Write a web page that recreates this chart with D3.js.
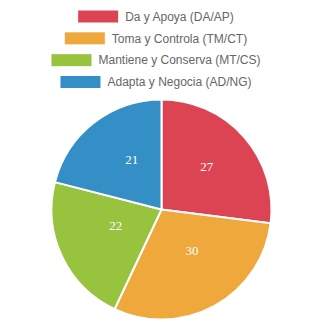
<!DOCTYPE html>
<html>
<head>
<meta charset="utf-8">
<script src="https://cdn.jsdelivr.net/npm/d3@7"></script>
<style>
  body { margin: 0; background: #fff; }
  svg { display: block; }
</style>
</head>
<body>
<div id="chart"></div>
<script>
// Datos del gráfico
const categories = ["Da y Apoya (DA/AP)", "Toma y Controla (TM/CT)", "Mantiene y Conserva (MT/CS)", "Adapta y Negocia (AD/NG)"];
const values = [27, 30, 22, 21];
const colors = ["#dc4453", "#eea83c", "#97c33f", "#348fc6"];

const width = 322, height = 322;
const legendCenterX = 156;
const pieCenter = { x: 161.5, y: 209.5 };
const radius = 110;

const svg = d3.select("#chart").append("svg")
    .attr("width", width)
    .attr("height", height);

// Leyenda
const legendY = d3.scalePoint().domain(categories).range([16.5, 82]);
const legend = svg.append("g").attr("class", "legend");

categories.forEach((cat, i) => {
    const row = legend.append("g");
    const label = row.append("text")
        .attr("y", legendY(cat))
        .attr("dy", "0.35em")
        .style("font-family", "'Liberation Sans', Arial, sans-serif")
        .style("font-size", "12px")
        .attr("fill", "#666")
        .text(cat);
    const textW = label.node().getComputedTextLength();
    const boxW = 40, gap = 7;
    const total = boxW + gap + textW;
    const x0 = legendCenterX - total / 2;
    row.insert("rect", "text")
        .attr("x", x0)
        .attr("y", legendY(cat) - 6)
        .attr("width", boxW)
        .attr("height", 12)
        .attr("fill", colors[i]);
    label.attr("x", x0 + boxW + gap);
});

// Pastel
const pie = d3.pie().sort(null).value(d => d);
const arc = d3.arc().innerRadius(0).outerRadius(radius);
const labelArc = d3.arc().innerRadius(radius * 0.5).outerRadius(radius * 0.5);
const labelShift = [4, -7]; // las etiquetas del original van algo desplazadas

const g = svg.append("g")
    .attr("transform", `translate(${pieCenter.x},${pieCenter.y})`);

const arcs = pie(values);

g.selectAll("path")
    .data(arcs)
    .enter()
    .append("path")
        .attr("d", arc)
        .attr("fill", (d, i) => colors[i])
        .attr("stroke", "#fff")
        .attr("stroke-width", 2);

g.selectAll("text")
    .data(arcs)
    .enter()
    .append("text")
        .attr("transform", d => {
            const [cx, cy] = labelArc.centroid(d);
            return `translate(${cx + labelShift[0]},${cy + labelShift[1]})`;
        })
        .attr("text-anchor", "middle")
        .attr("dy", "0.35em")
        .attr("fill", "#fff")
        .style("font-family", "'Liberation Serif', 'Times New Roman', serif")
        .style("font-size", "13px")
        .text(d => d.data);
</script>
</body>
</html>
